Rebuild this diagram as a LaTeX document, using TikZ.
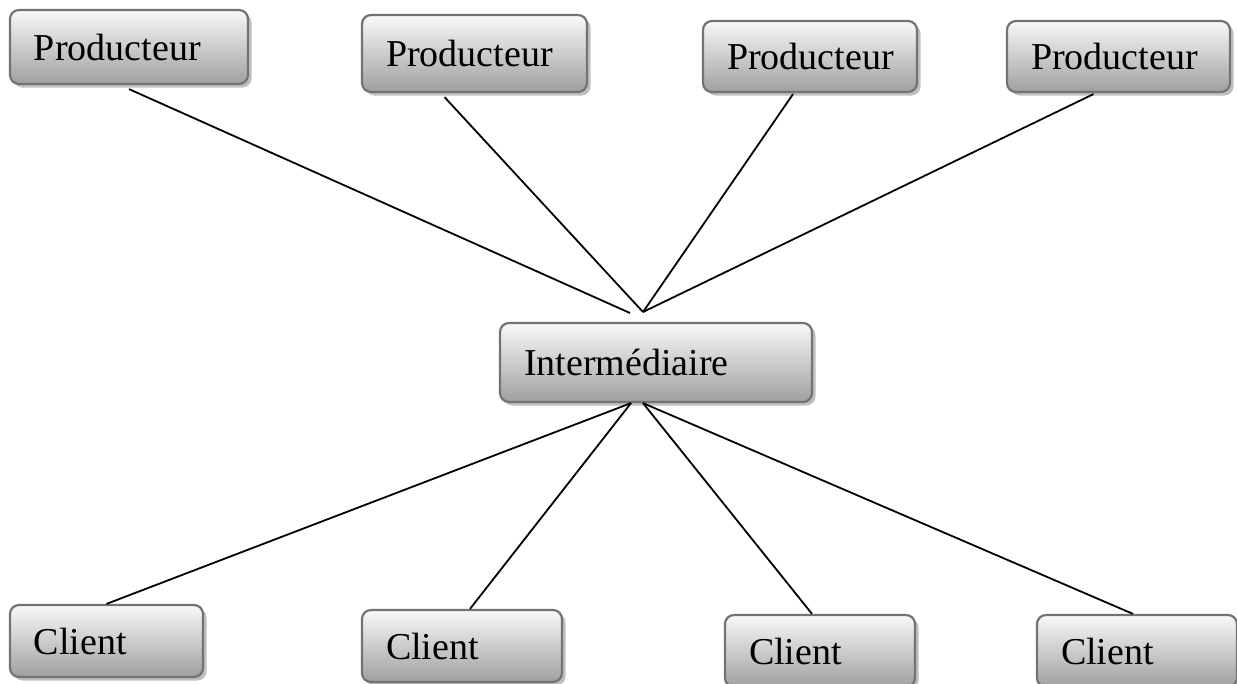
\documentclass[tikz,border=0pt]{standalone}
\usepackage{fontspec}
\setmainfont{Liberation Serif}
\usepackage{tikz}
\usetikzlibrary{shadows}

\begin{document}
\begin{tikzpicture}[x=1pt,y=-1pt,line width=1.8pt,
    box/.style={draw=gray!90!black,line width=2.2pt,rounded corners=9pt,
      top color=gray!5,bottom color=gray!75,
      drop shadow={shadow xshift=3.5pt,shadow yshift=-3.5pt,opacity=0.5},
      align=left,inner xsep=24pt,inner ysep=0pt,
      font=\fontsize{38}{40}\selectfont}]
      \useasboundingbox (0,0) rectangle (1237,683);

      \node[box,text width=190,minimum height=74] (p1) at (129,47) {Producteur};
      \node[box,text width=177,minimum height=77] (p2) at (474.5,53.5) {Producteur};
      \node[box,text width=166,minimum height=71] (p3) at (810,56.5) {Producteur};
      \node[box,text width=175,minimum height=71] (p4) at (1118.5,56.5) {Producteur};

      \node[box,text width=264,minimum height=79] (inter) at (656,362.5) {Intermédiaire};

      \node[box,text width=145,minimum height=72] (c1) at (106.5,641) {Client};
      \node[box,text width=152,minimum height=72] (c2) at (462,646) {Client};
      \node[box,text width=142,minimum height=72] (c3) at (820,651) {Client};
      \node[box,text width=152,minimum height=72] (c4) at (1137,651) {Client};

      \coordinate (hubA) at (630,313);
      \coordinate (hubB) at (643,312);

      \path[draw]
      ([yshift=-4pt]p1.south) edge (hubA)
      ([xshift=-30pt,yshift=-4pt]p2.south) edge (hubB)
      ([xshift=-17pt,yshift=-1pt]p3.south) edge (hubB)
      ([xshift=-25pt,yshift=-1pt]p4.south) edge (hubB)

      ([xshift=-25pt]inter.south) edge (c1.north)
      ([xshift=-25pt]inter.south) edge ([xshift=8pt]c2.north)
      ([xshift=-13pt]inter.south) edge ([xshift=-8pt]c3.north)
      ([xshift=-13pt]inter.south) edge ([xshift=-4pt]c4.north)
      ;
    \end{tikzpicture}
\end{document}
